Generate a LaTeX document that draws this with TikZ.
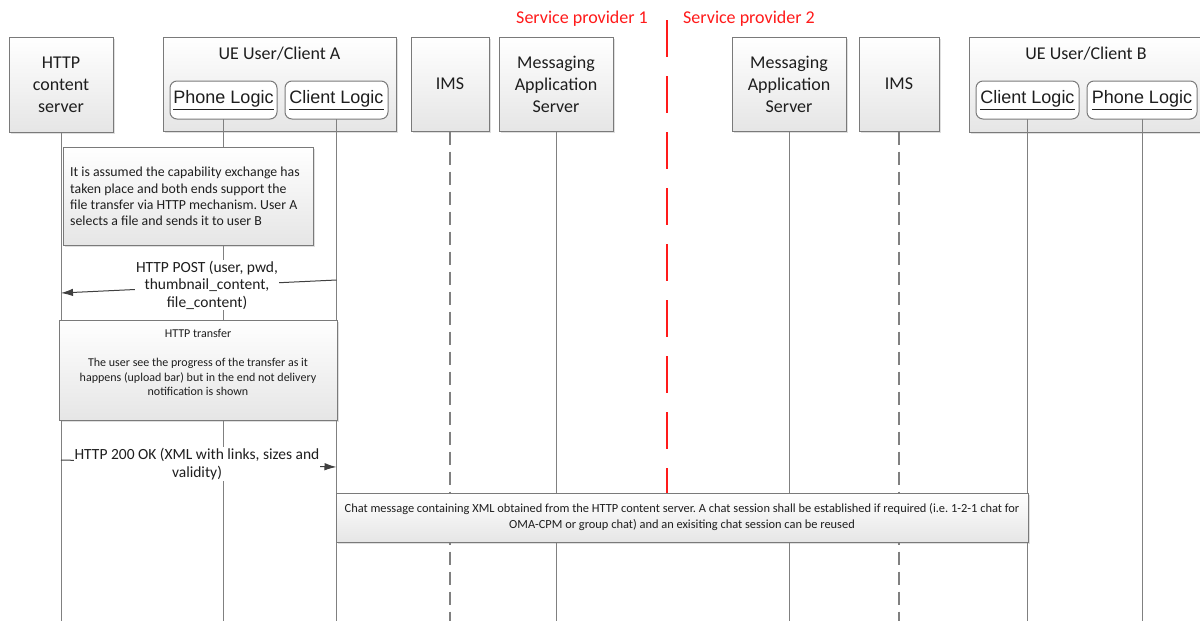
\documentclass[tikz,border=0pt]{standalone}
\usepackage{fontspec}
\setmainfont{Carlito}
\newfontfamily\arialf{Liberation Sans}
\usetikzlibrary{arrows.meta,shadows}
\definecolor{bordc}{HTML}{7A7A7A}
\definecolor{lifec}{HTML}{808080}
\definecolor{txtc}{HTML}{1E1E1E}
\definecolor{redc}{HTML}{FF1A1A}
\newcommand\fsBig{\fontsize{18}{22}\selectfont}
\newcommand\fsLab{\fontsize{15.5}{17.5}\selectfont}
\newcommand\fsNote{\fontsize{13.8}{16.4}\selectfont}
\newcommand\fsSmall{\fontsize{12}{14.6}\selectfont}
\newcommand\fsChat{\fontsize{12.4}{16}\selectfont}
\frenchspacing
\begin{document}
\begin{tikzpicture}[x=1pt,y=-1pt,
  lbox/.style={draw=bordc, line width=1pt, top color=white, bottom color=black!10,
    drop shadow={shadow xshift=1.5pt, shadow yshift=-1.5pt, opacity=0.25},
    inner sep=0pt, align=center, text=txtc, font=\fsBig},
  rbox/.style={draw=bordc, line width=1pt, fill=white, rounded corners=7pt,
    inner sep=0pt, align=center, text=txtc, font=\arialf\fsBig},
  plain/.style={inner sep=0pt, align=center, text=txtc},
  life/.style={draw=lifec, line width=1pt},
  lifed/.style={draw=lifec, line width=1.2pt, dash pattern=on 13pt off 7pt},
  msg/.style={draw=black!75, line width=1pt, -{Latex[length=12pt,width=7.5pt]}},
  lab/.style={fill=white, inner sep=1pt, align=center, text=txtc, font=\fsLab}
]
\useasboundingbox (0,0) rectangle (1200,621);
\fill[white] (0,0) rectangle (1200,621);
\coordinate (bot) at (0,621);

% service provider separator
\coordinate (redtop) at (667,20);
\coordinate (redbot) at (667,493);
\draw[redc, line width=2.4pt, dash pattern=on 37pt off 19pt] (redtop) -- (redbot);
\node[plain, text=redc, font=\fsBig, anchor=east] (sp1) at (648,19) {Service provider 1};
\node[plain, text=redc, font=\fsBig, anchor=west] (sp2) at (683,19) {Service provider 2};

% heads
\node[lbox, minimum width=104, minimum height=95] (http) at (61,84.5) {HTTP\\content\\server};
\node[lbox, minimum width=233, minimum height=94] (uea) at (279.5,84) {};
\node[plain, font=\fsBig] (ueat) at (279.5,54) {UE User/Client A};
\node[lbox, minimum width=78, minimum height=94] (ims1) at (450,84) {IMS};
\node[lbox, minimum width=114, minimum height=94] (mas1) at (556,84) {Messaging\\Application\\Server};
\node[lbox, minimum width=114, minimum height=94] (mas2) at (789,84) {Messaging\\Application\\Server};
\node[lbox, minimum width=80, minimum height=94] (ims2) at (899,84) {IMS};
\node[lbox, minimum width=234, minimum height=95] (ueb) at (1086,84.5) {};
\node[plain, font=\fsBig] (uebt) at (1086,54) {UE User/Client B};

% lifelines
\draw[life] (http.south) -- (http.south |- bot);
\draw[life] (223.5,119) coordinate (phaS) -- (phaS |- bot);
\draw[life] (336.5,119) coordinate (claS) -- (claS |- bot);
\draw[lifed] (ims1.south) -- (ims1.south |- bot);
\draw[life] (mas1.south) -- (mas1.south |- bot);
\draw[life] (mas2.south) -- (mas2.south |- bot);
\draw[lifed] (ims2.south) -- (ims2.south |- bot);
\draw[life] (1027.5,119) coordinate (clbS) -- (clbS |- bot);
\draw[life] (1142,119) coordinate (phbS) -- (phbS |- bot);

% inner logic boxes
\node[rbox, minimum width=107, minimum height=38] (pha) at (223.5,100) {\underline{Phone Logic}};
\node[rbox, minimum width=103, minimum height=38] (cla) at (336.5,100) {\underline{Client Logic}};
\node[rbox, minimum width=103, minimum height=38] (clb) at (1027.5,100) {\underline{Client Logic}};
\node[rbox, minimum width=110, minimum height=38] (phb) at (1142,100) {\underline{Phone Logic}};

% note 1
\node[lbox, minimum width=250, minimum height=98] (note1) at (188,196) {};
\node[plain, align=left, anchor=west, font=\fsNote] (note1t) at (70,196.5)
  {It is assumed the capability exchange has\\taken place and both ends support the\\file transfer via HTTP mechanism. User A\\selects a file and sends it to user B};

% HTTP POST
\coordinate (postS) at (cla.south |- {(0,280)});
\coordinate (postE) at (http.south |- {(0,293)});
\draw[msg] (postS) -- (postE);
\node[lab] (postl) at (207,285) {HTTP POST (user, pwd,\\thumbnail\_content,\\file\_content)};

% HTTP transfer
\node[lbox, minimum width=278, minimum height=100] (xfer) at (198,370) {};
\node[plain, font=\fsSmall] (xfert) at (198,333) {HTTP transfer};
\node[plain, font=\fsSmall] (xferb) at (198,377) {The user see the progress of the transfer as it\\happens (upload bar) but in the end not delivery\\notification is shown};

% HTTP 200 OK
\coordinate (okS) at (http.south |- {(0,460)});
\coordinate (okE) at (cla.south |- {(0,467)});
\draw[msg] (okS) -- (okE);
\node[lab] (okl) at (197,464) {HTTP 200 OK (XML with links, sizes and\\validity)};

% chat box
\node[lbox, minimum width=692, minimum height=49, font=\fsChat] (chat) at (682,517.5)
  {Chat message containing XML obtained from the HTTP content server. A chat session shall be established if required (i.e. 1-2-1 chat for\\OMA-CPM or group chat) and an exisiting chat session can be reused};
\end{tikzpicture}
\end{document}
